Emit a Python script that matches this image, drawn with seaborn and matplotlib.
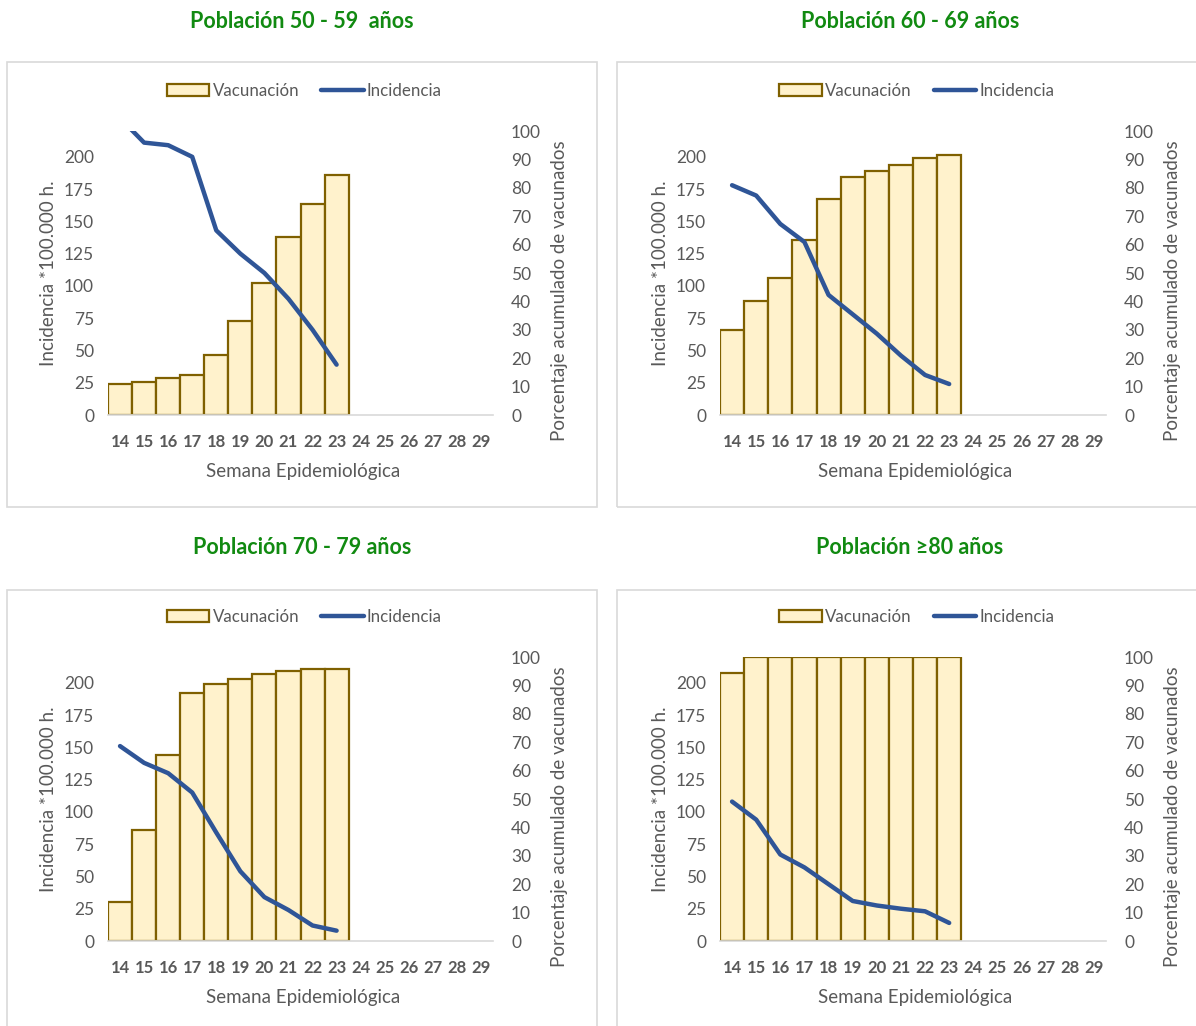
import numpy as np
import pandas as pd
import matplotlib
matplotlib.use("Agg")
import matplotlib.pyplot as plt
from matplotlib.patches import Rectangle, Patch
from matplotlib.lines import Line2D
import seaborn as sns

sns.set_theme(style="white")
plt.rcParams["font.family"] = ["Lato", "DejaVu Sans"]

# Epidemiological weeks on the x axis
weeks = [str(w) for w in range(14, 30)]
weeks_with_data = [str(w) for w in range(14, 24)]

titles = [
    "Población 50 - 59  años",
    "Población 60 - 69 años",
    "Población 70 - 79 años",
    "Población ≥80 años",
]

# Cumulative vaccination (%) per week
vac_50_59 = [10.9, 11.6, 13.0, 14.1, 21.2, 33.1, 46.5, 62.7, 74.4, 84.4]
vac_60_69 = [29.9, 40.0, 48.2, 61.6, 76.0, 83.7, 85.8, 88.2, 90.4, 91.4]
vac_70_79 = [13.7, 39.0, 65.6, 87.3, 90.4, 92.1, 94.0, 95.2, 95.9, 95.9]
vac_80 = [94.5, 100, 100, 100, 100, 100, 100, 100, 100, 100]

# Incidence per 100,000 inhabitants per week
inc_50_59 = [230, 211, 209, 200, 143, 125, 110, 90, 66, 39]
inc_60_69 = [178, 170, 148, 134, 93, 78, 63, 46, 31, 24]
inc_70_79 = [151, 138, 130, 115, 84, 54, 34, 24, 12, 8]
inc_80 = [108, 94, 67, 57, 44, 31, 27.5, 25, 23, 14]

vac_series = [vac_50_59, vac_60_69, vac_70_79, vac_80]
inc_series = [inc_50_59, inc_60_69, inc_70_79, inc_80]

W, H = 1196, 1026
fig = plt.figure(figsize=(W / 100, H / 100), dpi=100)

BAR_FILL = "#FFF2CC"
BAR_EDGE = "#7F6000"
LINE_COL = "#2F5597"
TXT = "#595959"
TITLE_COL = "#118A11"
BOX_COL = "#D9D9D9"

# pixel layout of each panel: plot area, surrounding box and title centre
panels = [
    dict(l=108, r=493, b=415, t=131, box=(7, 62, 590, 445), tx=302, ty=22),
    dict(l=720, r=1106, b=415, t=131, box=(617, 62, 600, 445), tx=910, ty=22),
    dict(l=108, r=493, b=941, t=657, box=(7, 590, 590, 460), tx=302, ty=548),
    dict(l=720, r=1106, b=941, t=657, box=(617, 590, 600, 460), tx=910, ty=548),
]

for p, title, vac, inc in zip(panels, titles, vac_series, inc_series):
    bx, by, bw, bh = p["box"]
    fig.patches.append(Rectangle((bx / W, 1 - (by + bh) / H), bw / W, bh / H,
                                 transform=fig.transFigure, fill=False,
                                 edgecolor=BOX_COL, linewidth=1.2, clip_on=False))
    fig.text(p["tx"] / W, 1 - p["ty"] / H, title, ha="center", va="center",
             fontsize=15.5, fontweight="bold", color=TITLE_COL)

    ax = fig.add_axes([p["l"] / W, 1 - p["b"] / H, (p["r"] - p["l"]) / W, (p["b"] - p["t"]) / H])
    ax2 = ax.twinx()

    # vaccination bars on the percentage axis (right)
    df = pd.DataFrame({"semana": weeks_with_data, "vac": vac})
    sns.barplot(data=df, x="semana", y="vac", order=weeks, width=1.0,
                color=BAR_FILL, edgecolor=BAR_EDGE, linewidth=1.6,
                saturation=1, ax=ax)
    for patch in ax.patches:
        patch.set_facecolor(BAR_FILL)
    ax.set_ylim(0, 100)
    ax.set_xlim(-0.5, len(weeks) - 0.5)
    ax.yaxis.tick_right()
    ax.yaxis.set_label_position("right")
    ax.set_yticks(range(0, 101, 10))
    ax.set_ylabel("Porcentaje acumulado de vacunados", fontsize=13.5, color=TXT)
    ax.yaxis.set_label_coords(1.151, 0.437)
    ax.set_xlabel("Semana Epidemiológica", fontsize=13.5, color=TXT)
    ax.xaxis.set_label_coords(0.506, -0.17)
    ax.tick_params(axis="y", left=False, right=False, labelleft=False, labelright=True,
                   length=0, pad=13, labelsize=12.5, labelcolor=TXT)
    ax.tick_params(axis="x", length=0, pad=14, labelsize=12, labelcolor=TXT)
    for lab in ax.get_xticklabels():
        lab.set_fontweight("bold")
    for side in ["top", "left", "right"]:
        ax.spines[side].set_visible(False)
    ax.spines["bottom"].set_color(BOX_COL)
    ax.spines["bottom"].set_linewidth(1.2)

    # incidence line on the incidence axis (left)
    line_df = pd.DataFrame({"pos": [weeks.index(w) for w in weeks_with_data], "inc": inc})
    sns.lineplot(data=line_df, x="pos", y="inc", color=LINE_COL, linewidth=3.2, ax=ax2)
    ax2.set_ylim(0, 220)
    ax2.set_xlim(-0.5, len(weeks) - 0.5)
    ax2.yaxis.tick_left()
    ax2.yaxis.set_label_position("left")
    ax2.set_yticks(range(0, 201, 25))
    ax2.set_ylabel("Incidencia *100.000 h.", fontsize=13.5, color=TXT)
    ax2.yaxis.set_label_coords(-0.132, 0.5)
    ax2.set_xlabel("")
    ax2.tick_params(axis="y", left=False, right=False, labelleft=True, labelright=False,
                    length=0, pad=10, labelsize=12.5, labelcolor=TXT)
    for side in ["top", "left", "right", "bottom"]:
        ax2.spines[side].set_visible(False)

    handles = [Patch(facecolor=BAR_FILL, edgecolor=BAR_EDGE, linewidth=1.6, label="Vacunación"),
               Line2D([], [], color=LINE_COL, linewidth=3.2, label="Incidencia")]
    ax2.legend(handles=handles, loc="center", bbox_to_anchor=(0.51, 1.141), ncol=2,
               frameon=False, fontsize=12.2, labelcolor=TXT, handlelength=2.5,
               handletextpad=0.2, columnspacing=1.3, borderaxespad=0)

fig.savefig("out.png", dpi=100, facecolor="white")
